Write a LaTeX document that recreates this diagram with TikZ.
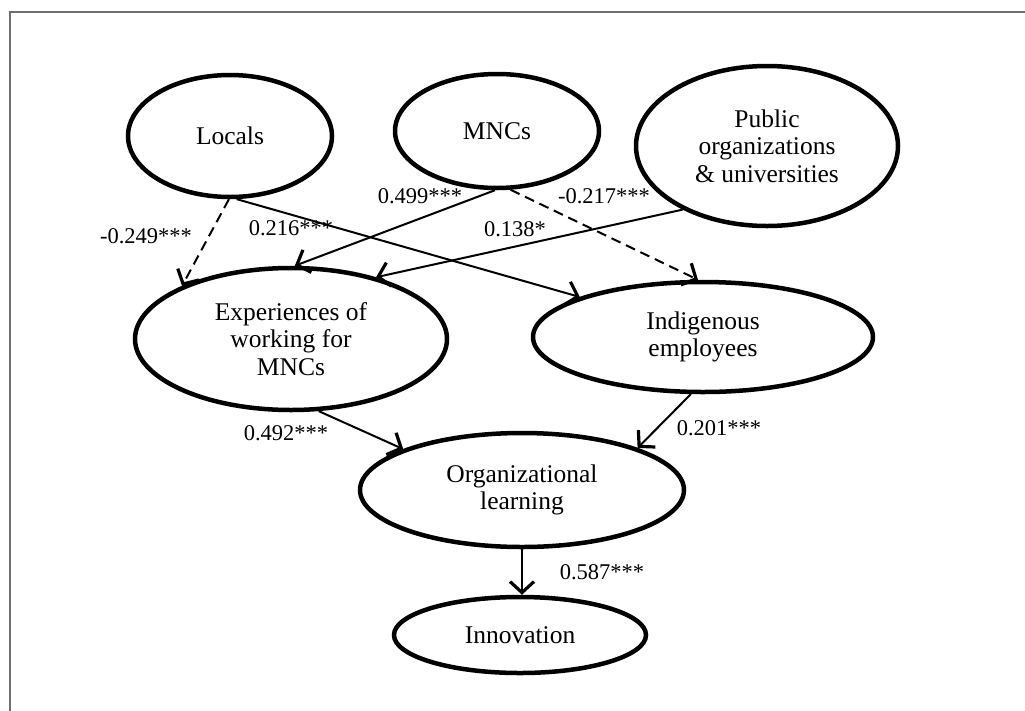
\documentclass[tikz,border=0pt]{standalone}
\usepackage{fontspec}
\setmainfont{Liberation Serif}
\usetikzlibrary{shapes.geometric,arrows.meta}
\definecolor{framegray}{HTML}{707070}
\tikzset{
  latent/.style={draw, ellipse, line width=4.5pt, inner sep=0pt, align=center,
    font=\fontsize{25.5}{27.5}\selectfont},
  path/.style={line width=2pt, -{Straight Barb[length=11pt,width=24pt,line width=3.2pt]}},
  negpath/.style={path, dash pattern=on 10pt off 6pt},
  coef/.style={font=\fontsize{22.5}{24}\selectfont, inner sep=0pt},
}
\begin{document}
\begin{tikzpicture}[x=1pt,y=-1pt]
\useasboundingbox (0,0) rectangle (1025,710);
\fill[white] (0,0) rectangle (1025,710);
\draw[framegray, line width=2pt] (10,712) -- (10,12) -- (1027,12);

\node[latent, minimum width=204pt, minimum height=122pt] (loc) at (230,136) {Locals};
\node[latent, minimum width=204pt, minimum height=114pt] (mnc) at (497,131) {MNCs};
\node[latent, minimum width=262pt, minimum height=160pt] (pub) at (767,146) {Public\\organizations\\\& universities};
\node[latent, minimum width=312pt, minimum height=142pt] (exp) at (291,339) {Experiences of\\working for\\MNCs};
\node[latent, minimum width=340pt, minimum height=110pt] (ind) at (703,337) {Indigenous\\employees};
\node[latent, minimum width=324pt, minimum height=114pt] (org) at (522,490) {Organizational\\learning};
\node[latent, minimum width=252pt, minimum height=76pt] (inn) at (520,635) {Innovation};

\draw[negpath] (loc.-91) -- (exp.154);
\draw[path] (loc.-84) -- (ind.162);
\draw[path] (mnc.-92) -- (exp.87);
\draw[negpath] (mnc.-77) -- (ind.95);
\draw[path] (pub.217) -- (exp.36);
\draw[path] (exp.-69) -- (org.161);
\draw[path] (ind.-102) -- (org.20);
\draw[path] (org.south) -- (org.south |- inn.north);

\node[coef] (c1) at (146,236) {-0.249***};
\node[coef] (c2) at (291,228) {0.216***};
\node[coef] (c3) at (420,196) {0.499***};
\node[coef] (c4) at (604,196) {-0.217***};
\node[coef] (c5) at (515,229) {0.138*};
\node[coef] (c6) at (286,433) {0.492***};
\node[coef] (c7) at (719,428) {0.201***};
\node[coef] (c8) at (602,572) {0.587***};
\end{tikzpicture}
\end{document}
